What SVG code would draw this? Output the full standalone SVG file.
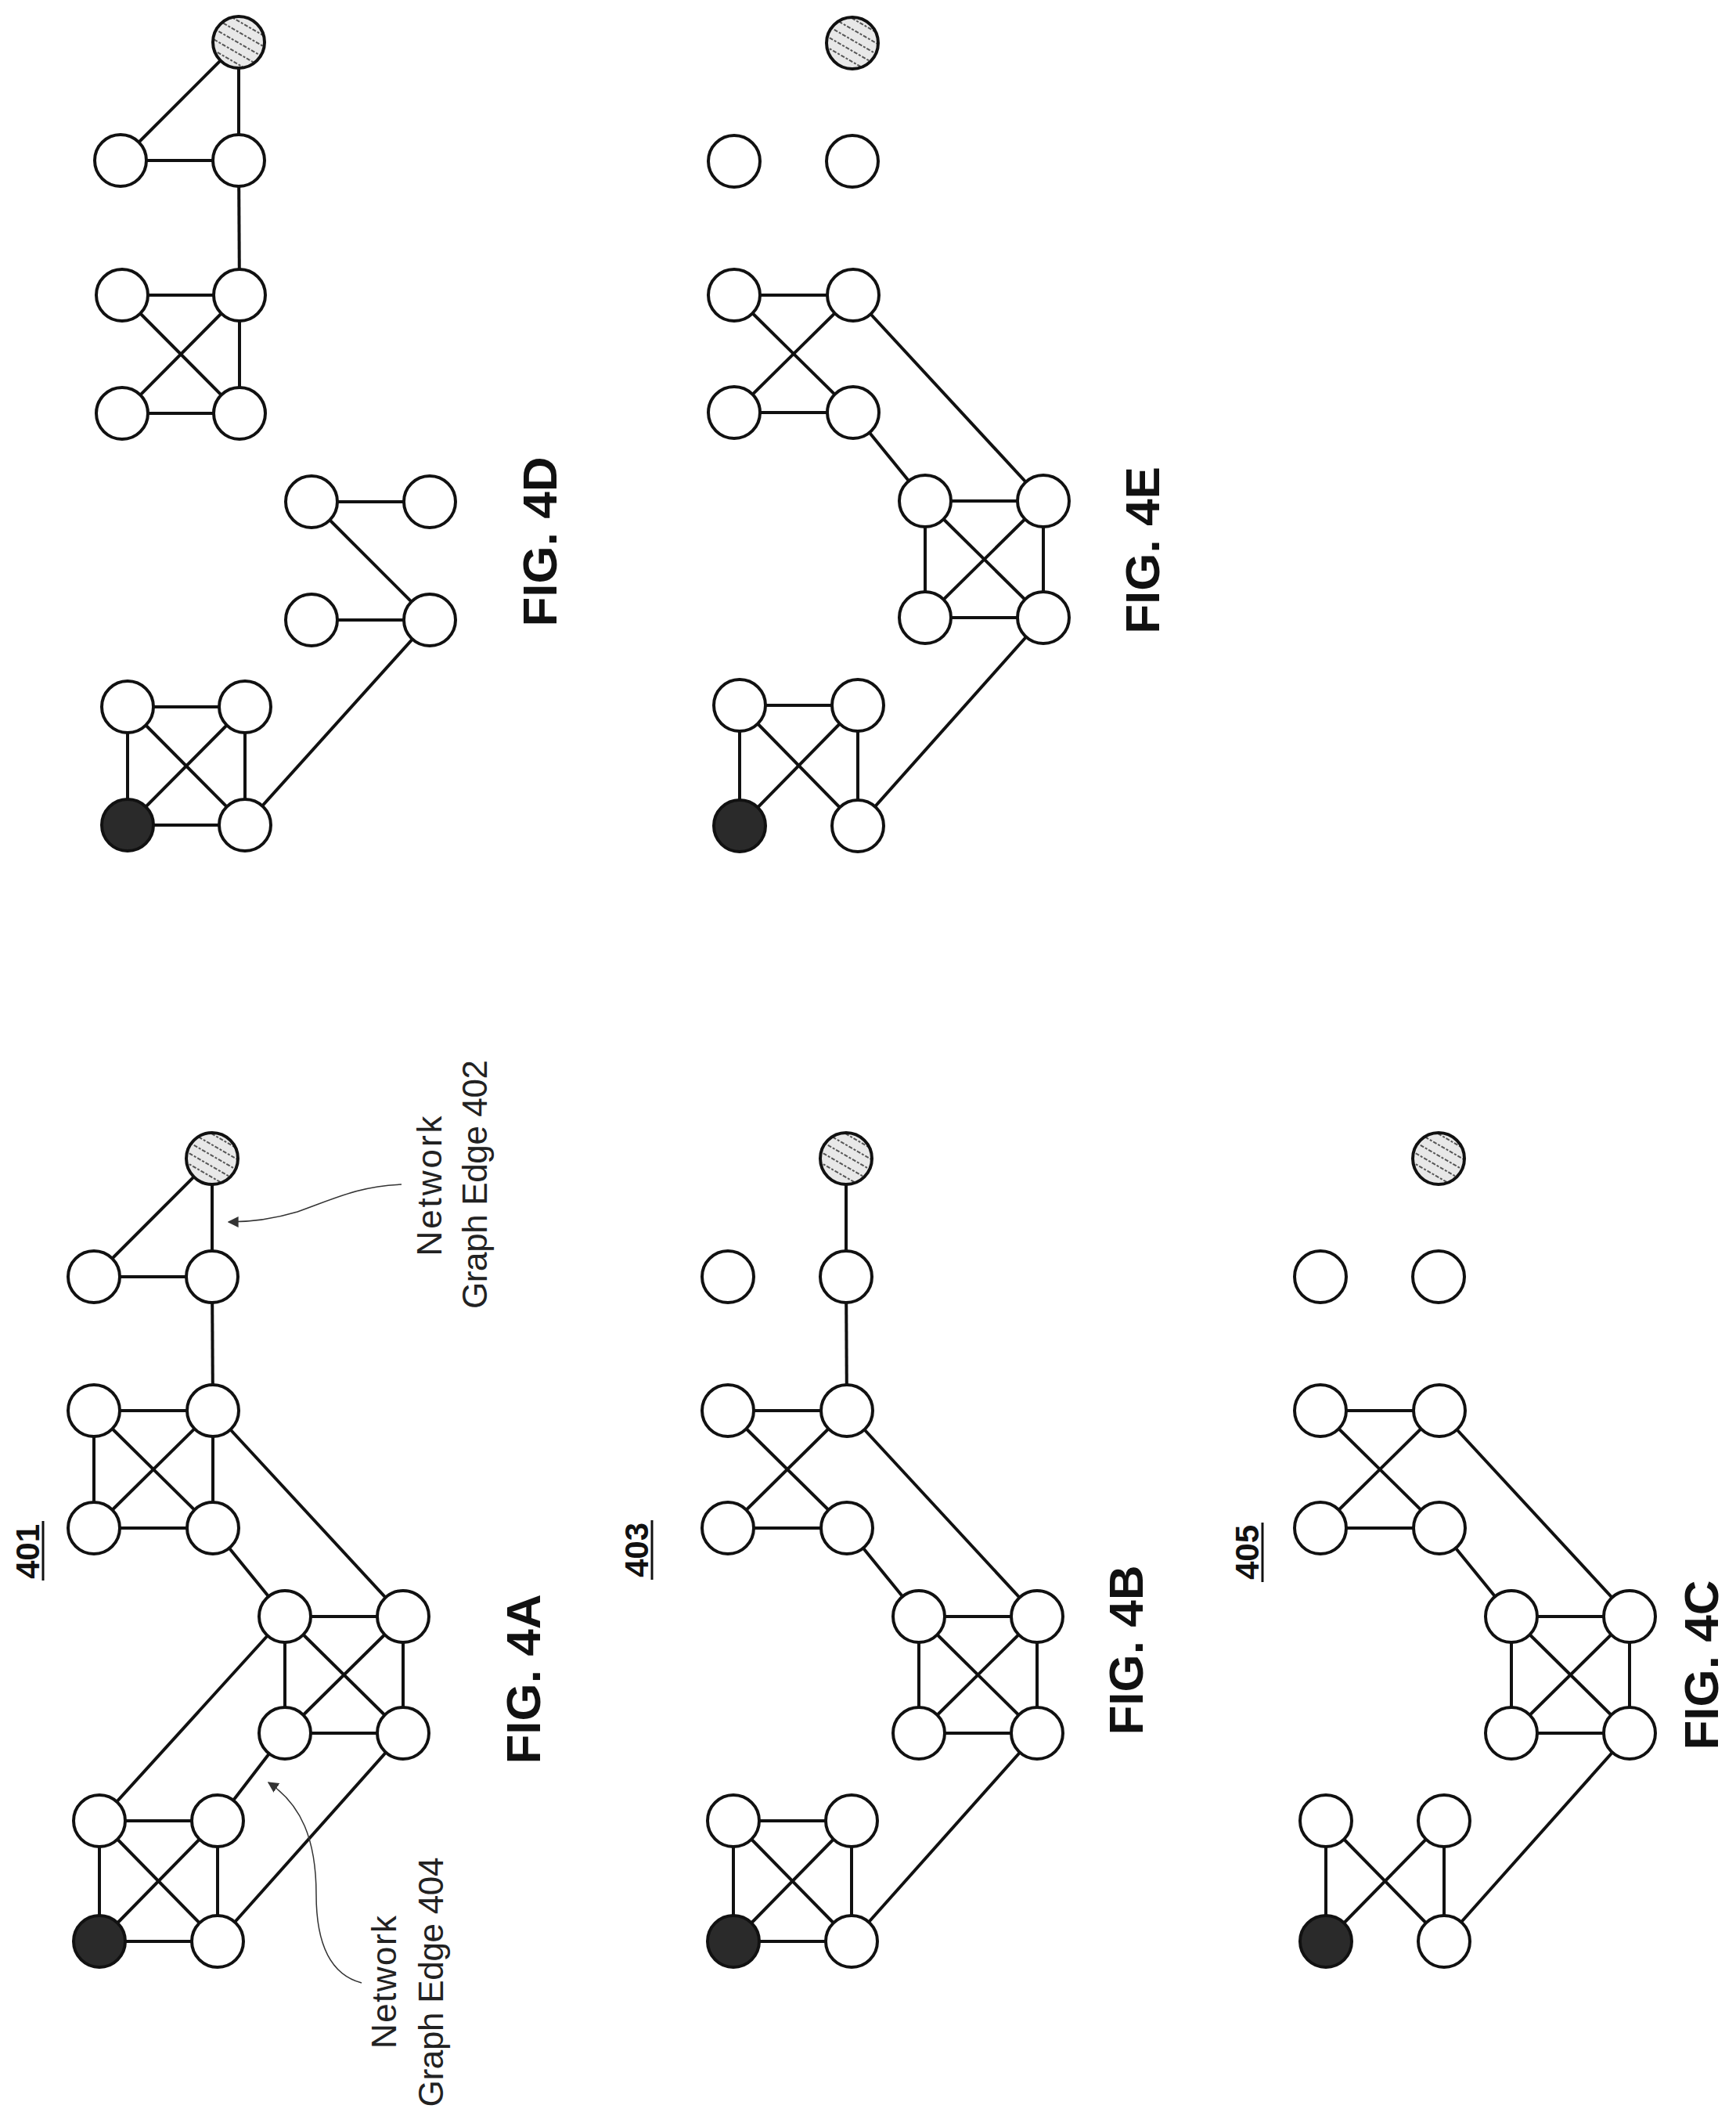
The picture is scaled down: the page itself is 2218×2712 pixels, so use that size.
<svg xmlns="http://www.w3.org/2000/svg" width="2218" height="2712" viewBox="0 0 2218 2712">
<style>
.n{fill:#fff;stroke:#111;stroke-width:4}
.blk{fill:#2a2a2a;stroke:#111;stroke-width:4}
.str{fill:url(#stripe);stroke:#111;stroke-width:4}
#connectors line{stroke:#111;stroke-width:4}
.lead{fill:none;stroke:#333;stroke-width:1.5}
.fig{font-family:"Liberation Sans",Arial,sans-serif;font-weight:bold;font-size:62px;fill:#111}
.ref{font-family:"Liberation Sans",Arial,sans-serif;font-weight:bold;font-size:42px;fill:#111}
.lab{font-family:"Liberation Sans",Arial,sans-serif;font-size:44px;fill:#222}
</style>
<defs>
<pattern id="stripe" patternUnits="userSpaceOnUse" width="12" height="12" patternTransform="rotate(30)">
<rect width="12" height="12" fill="#e8e8e8"/>
<line x1="0" y1="3" x2="12" y2="3" stroke="#555" stroke-width="2" stroke-dasharray="3 2"/>
</pattern>
<marker id="ah" viewBox="0 0 10 10" refX="9" refY="5" markerWidth="14" markerHeight="14" orient="auto" markerUnits="userSpaceOnUse">
<path d="M0,0 L10,5 L0,10 Z" fill="#333"/>
</marker>
</defs>
<rect width="2218" height="2712" fill="#fff"/>
<g id="connectors">
<!-- 4A -->
<line x1="271" y1="1480" x2="120" y2="1631"/><line x1="271" y1="1480" x2="271" y2="1631"/><line x1="120" y1="1631" x2="271" y2="1631"/><line x1="271" y1="1631" x2="272" y2="1802"/>
<line x1="120" y1="1802" x2="272" y2="1802"/><line x1="120" y1="1802" x2="120" y2="1952"/><line x1="272" y1="1802" x2="272" y2="1952"/><line x1="120" y1="1952" x2="272" y2="1952"/><line x1="120" y1="1802" x2="272" y2="1952"/><line x1="272" y1="1802" x2="120" y2="1952"/>
<line x1="272" y1="1802" x2="515" y2="2065"/><line x1="272" y1="1952" x2="364" y2="2065"/>
<line x1="364" y1="2065" x2="515" y2="2065"/><line x1="364" y1="2065" x2="364" y2="2214"/><line x1="515" y1="2065" x2="515" y2="2214"/><line x1="364" y1="2214" x2="515" y2="2214"/><line x1="364" y1="2065" x2="515" y2="2214"/><line x1="515" y1="2065" x2="364" y2="2214"/>
<line x1="364" y1="2065" x2="127" y2="2326"/><line x1="278" y1="2326" x2="364" y2="2214"/><line x1="515" y1="2214" x2="278" y2="2480"/>
<line x1="127" y1="2326" x2="278" y2="2326"/><line x1="127" y1="2326" x2="127" y2="2480"/><line x1="278" y1="2326" x2="278" y2="2480"/><line x1="127" y1="2480" x2="278" y2="2480"/><line x1="127" y1="2326" x2="278" y2="2480"/><line x1="278" y1="2326" x2="127" y2="2480"/>
<!-- 4B -->
<g transform="translate(810,0)">
<line x1="271" y1="1480" x2="271" y2="1631"/><line x1="271" y1="1631" x2="272" y2="1802"/>
<line x1="120" y1="1802" x2="272" y2="1802"/><line x1="120" y1="1952" x2="272" y2="1952"/><line x1="120" y1="1802" x2="272" y2="1952"/><line x1="272" y1="1802" x2="120" y2="1952"/>
<line x1="272" y1="1802" x2="515" y2="2065"/><line x1="272" y1="1952" x2="364" y2="2065"/>
<line x1="364" y1="2065" x2="515" y2="2065"/><line x1="364" y1="2065" x2="364" y2="2214"/><line x1="515" y1="2065" x2="515" y2="2214"/><line x1="364" y1="2214" x2="515" y2="2214"/><line x1="364" y1="2065" x2="515" y2="2214"/><line x1="515" y1="2065" x2="364" y2="2214"/>
<line x1="515" y1="2214" x2="278" y2="2480"/>
<line x1="127" y1="2326" x2="278" y2="2326"/><line x1="127" y1="2326" x2="127" y2="2480"/><line x1="278" y1="2326" x2="278" y2="2480"/><line x1="127" y1="2480" x2="278" y2="2480"/><line x1="127" y1="2326" x2="278" y2="2480"/><line x1="278" y1="2326" x2="127" y2="2480"/>
</g>
<!-- 4C -->
<g transform="translate(1567,0)">
<line x1="120" y1="1802" x2="272" y2="1802"/><line x1="120" y1="1952" x2="272" y2="1952"/><line x1="120" y1="1802" x2="272" y2="1952"/><line x1="272" y1="1802" x2="120" y2="1952"/>
<line x1="272" y1="1802" x2="515" y2="2065"/><line x1="272" y1="1952" x2="364" y2="2065"/>
<line x1="364" y1="2065" x2="515" y2="2065"/><line x1="364" y1="2065" x2="364" y2="2214"/><line x1="515" y1="2065" x2="515" y2="2214"/><line x1="364" y1="2214" x2="515" y2="2214"/><line x1="364" y1="2065" x2="515" y2="2214"/><line x1="515" y1="2065" x2="364" y2="2214"/>
<line x1="515" y1="2214" x2="278" y2="2480"/>
<line x1="127" y1="2326" x2="127" y2="2480"/><line x1="278" y1="2326" x2="278" y2="2480"/><line x1="127" y1="2326" x2="278" y2="2480"/><line x1="278" y1="2326" x2="127" y2="2480"/>
</g>
<!-- 4E -->
<g transform="translate(818,-1425)">
<line x1="120" y1="1802" x2="272" y2="1802"/><line x1="120" y1="1952" x2="272" y2="1952"/><line x1="120" y1="1802" x2="272" y2="1952"/><line x1="272" y1="1802" x2="120" y2="1952"/>
<line x1="272" y1="1802" x2="515" y2="2065"/><line x1="272" y1="1952" x2="364" y2="2065"/>
<line x1="364" y1="2065" x2="515" y2="2065"/><line x1="364" y1="2065" x2="364" y2="2214"/><line x1="515" y1="2065" x2="515" y2="2214"/><line x1="364" y1="2214" x2="515" y2="2214"/><line x1="364" y1="2065" x2="515" y2="2214"/><line x1="515" y1="2065" x2="364" y2="2214"/>
<line x1="515" y1="2214" x2="278" y2="2480"/>
<line x1="127" y1="2326" x2="278" y2="2326"/><line x1="127" y1="2326" x2="127" y2="2480"/><line x1="278" y1="2326" x2="278" y2="2480"/><line x1="127" y1="2326" x2="278" y2="2480"/><line x1="278" y1="2326" x2="127" y2="2480"/>
</g>
<!-- 4D -->
<line x1="305" y1="54" x2="154" y2="205"/><line x1="305" y1="54" x2="305" y2="205"/><line x1="154" y1="205" x2="305" y2="205"/><line x1="305" y1="205" x2="306" y2="377"/>
<line x1="156" y1="377" x2="306" y2="377"/><line x1="156" y1="528" x2="306" y2="528"/><line x1="306" y1="377" x2="306" y2="528"/><line x1="156" y1="377" x2="306" y2="528"/><line x1="306" y1="377" x2="156" y2="528"/>
<line x1="398" y1="641" x2="549" y2="641"/><line x1="398" y1="641" x2="549" y2="792"/><line x1="398" y1="792" x2="549" y2="792"/><line x1="549" y1="792" x2="313" y2="1054"/>
<line x1="163" y1="903" x2="313" y2="903"/><line x1="163" y1="903" x2="163" y2="1054"/><line x1="313" y1="903" x2="313" y2="1054"/><line x1="163" y1="1054" x2="313" y2="1054"/><line x1="163" y1="903" x2="313" y2="1054"/><line x1="313" y1="903" x2="163" y2="1054"/>
<!-- leaders -->
<path class="lead" d="M513,1513 C460,1515 430,1530 380,1548 C340,1560 310,1561 292,1561" marker-end="url(#ah)"/>
<path class="lead" d="M462,2533 C420,2522 404,2480 404,2420 C404,2350 385,2305 343,2277" marker-end="url(#ah)"/>
</g>
<g id="fig4A">
<ellipse class="str" cx="271" cy="1480" rx="33" ry="33"/>
<ellipse class="n" cx="120" cy="1631" rx="33" ry="33"/><ellipse class="n" cx="271" cy="1631" rx="33" ry="33"/>
<ellipse class="n" cx="120" cy="1802" rx="33" ry="33"/><ellipse class="n" cx="272" cy="1802" rx="33" ry="33"/><ellipse class="n" cx="120" cy="1952" rx="33" ry="33"/><ellipse class="n" cx="272" cy="1952" rx="33" ry="33"/>
<ellipse class="n" cx="364" cy="2065" rx="33" ry="33"/><ellipse class="n" cx="515" cy="2065" rx="33" ry="33"/><ellipse class="n" cx="364" cy="2214" rx="33" ry="33"/><ellipse class="n" cx="515" cy="2214" rx="33" ry="33"/>
<ellipse class="n" cx="127" cy="2326" rx="33" ry="33"/><ellipse class="n" cx="278" cy="2326" rx="33" ry="33"/><ellipse class="blk" cx="127" cy="2480" rx="33" ry="33"/><ellipse class="n" cx="278" cy="2480" rx="33" ry="33"/>
<text class="ref" transform="translate(50,1982) rotate(-90)" text-anchor="middle">401</text>
<line x1="55" y1="1943" x2="55" y2="2019" stroke="#111" stroke-width="3"/>
<text class="fig" transform="translate(690,2145) rotate(-90)" text-anchor="middle">FIG. 4A</text>
<text class="lab" transform="translate(564,1515) rotate(-90)" text-anchor="middle" textLength="179">Network</text>
<text class="lab" transform="translate(622,1513) rotate(-90)" text-anchor="middle" textLength="318">Graph Edge 402</text>
<text class="lab" transform="translate(506,2532) rotate(-90)" text-anchor="middle" textLength="170">Network</text>
<text class="lab" transform="translate(566,2532) rotate(-90)" text-anchor="middle" textLength="319">Graph Edge 404</text>
</g>
<g id="fig4B" transform="translate(810,0)">
<ellipse class="str" cx="271" cy="1480" rx="33" ry="33"/>
<ellipse class="n" cx="120" cy="1631" rx="33" ry="33"/><ellipse class="n" cx="271" cy="1631" rx="33" ry="33"/>
<ellipse class="n" cx="120" cy="1802" rx="33" ry="33"/><ellipse class="n" cx="272" cy="1802" rx="33" ry="33"/><ellipse class="n" cx="120" cy="1952" rx="33" ry="33"/><ellipse class="n" cx="272" cy="1952" rx="33" ry="33"/>
<ellipse class="n" cx="364" cy="2065" rx="33" ry="33"/><ellipse class="n" cx="515" cy="2065" rx="33" ry="33"/><ellipse class="n" cx="364" cy="2214" rx="33" ry="33"/><ellipse class="n" cx="515" cy="2214" rx="33" ry="33"/>
<ellipse class="n" cx="127" cy="2326" rx="33" ry="33"/><ellipse class="n" cx="278" cy="2326" rx="33" ry="33"/><ellipse class="blk" cx="127" cy="2480" rx="33" ry="33"/><ellipse class="n" cx="278" cy="2480" rx="33" ry="33"/>
<text class="ref" transform="translate(18,1980) rotate(-90)" text-anchor="middle">403</text>
<line x1="23" y1="1942" x2="23" y2="2018" stroke="#111" stroke-width="3"/>
<text class="fig" transform="translate(650,2108) rotate(-90)" text-anchor="middle">FIG. 4B</text>
</g>
<g id="fig4C" transform="translate(1567,0)">
<ellipse class="str" cx="271" cy="1480" rx="33" ry="33"/>
<ellipse class="n" cx="120" cy="1631" rx="33" ry="33"/><ellipse class="n" cx="271" cy="1631" rx="33" ry="33"/>
<ellipse class="n" cx="120" cy="1802" rx="33" ry="33"/><ellipse class="n" cx="272" cy="1802" rx="33" ry="33"/><ellipse class="n" cx="120" cy="1952" rx="33" ry="33"/><ellipse class="n" cx="272" cy="1952" rx="33" ry="33"/>
<ellipse class="n" cx="364" cy="2065" rx="33" ry="33"/><ellipse class="n" cx="515" cy="2065" rx="33" ry="33"/><ellipse class="n" cx="364" cy="2214" rx="33" ry="33"/><ellipse class="n" cx="515" cy="2214" rx="33" ry="33"/>
<ellipse class="n" cx="127" cy="2326" rx="33" ry="33"/><ellipse class="n" cx="278" cy="2326" rx="33" ry="33"/><ellipse class="blk" cx="127" cy="2480" rx="33" ry="33"/><ellipse class="n" cx="278" cy="2480" rx="33" ry="33"/>
<text class="ref" transform="translate(41,1983) rotate(-90)" text-anchor="middle">405</text>
<line x1="46" y1="1945" x2="46" y2="2021" stroke="#111" stroke-width="3"/>
<text class="fig" transform="translate(628,2127) rotate(-90)" text-anchor="middle">FIG. 4C</text>
</g>
<g id="fig4D">
<ellipse class="str" cx="305" cy="54" rx="33" ry="33"/>
<ellipse class="n" cx="154" cy="205" rx="33" ry="33"/><ellipse class="n" cx="305" cy="205" rx="33" ry="33"/>
<ellipse class="n" cx="156" cy="377" rx="33" ry="33"/><ellipse class="n" cx="306" cy="377" rx="33" ry="33"/><ellipse class="n" cx="156" cy="528" rx="33" ry="33"/><ellipse class="n" cx="306" cy="528" rx="33" ry="33"/>
<ellipse class="n" cx="398" cy="641" rx="33" ry="33"/><ellipse class="n" cx="549" cy="641" rx="33" ry="33"/><ellipse class="n" cx="398" cy="792" rx="33" ry="33"/><ellipse class="n" cx="549" cy="792" rx="33" ry="33"/>
<ellipse class="n" cx="163" cy="903" rx="33" ry="33"/><ellipse class="n" cx="313" cy="903" rx="33" ry="33"/><ellipse class="blk" cx="163" cy="1054" rx="33" ry="33"/><ellipse class="n" cx="313" cy="1054" rx="33" ry="33"/>
<text class="fig" transform="translate(711,692) rotate(-90)" text-anchor="middle">FIG. 4D</text>
</g>
<g id="fig4E" transform="translate(818,-1425)">
<ellipse class="str" cx="271" cy="1480" rx="33" ry="33"/>
<ellipse class="n" cx="120" cy="1631" rx="33" ry="33"/><ellipse class="n" cx="271" cy="1631" rx="33" ry="33"/>
<ellipse class="n" cx="120" cy="1802" rx="33" ry="33"/><ellipse class="n" cx="272" cy="1802" rx="33" ry="33"/><ellipse class="n" cx="120" cy="1952" rx="33" ry="33"/><ellipse class="n" cx="272" cy="1952" rx="33" ry="33"/>
<ellipse class="n" cx="364" cy="2065" rx="33" ry="33"/><ellipse class="n" cx="515" cy="2065" rx="33" ry="33"/><ellipse class="n" cx="364" cy="2214" rx="33" ry="33"/><ellipse class="n" cx="515" cy="2214" rx="33" ry="33"/>
<ellipse class="n" cx="127" cy="2326" rx="33" ry="33"/><ellipse class="n" cx="278" cy="2326" rx="33" ry="33"/><ellipse class="blk" cx="127" cy="2480" rx="33" ry="33"/><ellipse class="n" cx="278" cy="2480" rx="33" ry="33"/>
<text class="fig" transform="translate(663,2128) rotate(-90)" text-anchor="middle">FIG. 4E</text>
</g>
</svg>
